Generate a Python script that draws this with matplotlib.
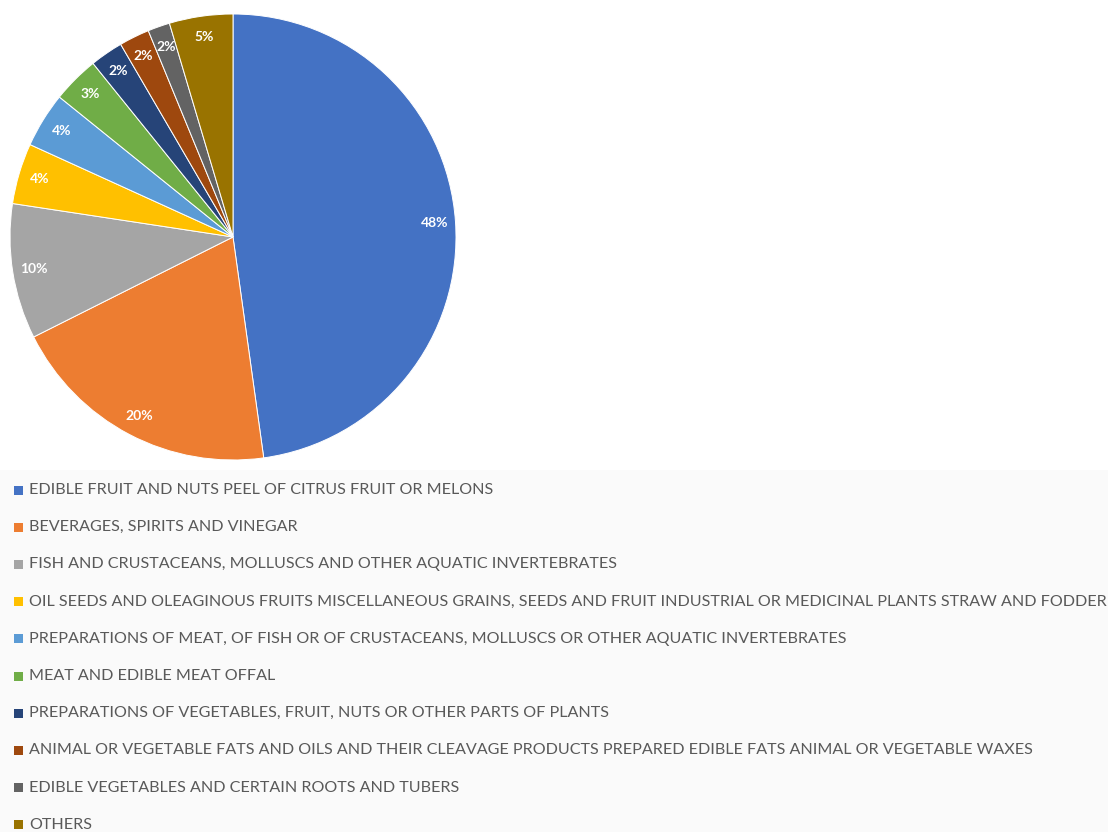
import matplotlib.pyplot as plt
from matplotlib.patches import Rectangle

# chapter shares (%), clockwise from 12 o'clock
categories = [
    "EDIBLE FRUIT AND NUTS PEEL OF CITRUS FRUIT OR MELONS",
    "BEVERAGES, SPIRITS AND VINEGAR",
    "FISH AND CRUSTACEANS, MOLLUSCS AND OTHER AQUATIC INVERTEBRATES",
    "OIL SEEDS AND OLEAGINOUS FRUITS MISCELLANEOUS GRAINS, SEEDS AND FRUIT INDUSTRIAL OR MEDICINAL PLANTS STRAW AND FODDER",
    "PREPARATIONS OF MEAT, OF FISH OR OF CRUSTACEANS, MOLLUSCS OR OTHER AQUATIC INVERTEBRATES",
    "MEAT AND EDIBLE MEAT OFFAL",
    "PREPARATIONS OF VEGETABLES, FRUIT, NUTS OR OTHER PARTS OF PLANTS",
    "ANIMAL OR VEGETABLE FATS AND OILS AND THEIR CLEAVAGE PRODUCTS PREPARED EDIBLE FATS ANIMAL OR VEGETABLE WAXES",
    "EDIBLE VEGETABLES AND CERTAIN ROOTS AND TUBERS",
    "OTHERS",
]
shares = [47.8, 19.8, 9.8, 4.4, 4.0, 3.4, 2.4, 2.2, 1.6, 4.6]
colors = ["#4472C4", "#ED7D31", "#A5A5A5", "#FFC000", "#5B9BD5",
          "#70AD47", "#264478", "#9E480E", "#636363", "#997300"]

W, H = 1108, 832
fig = plt.figure(figsize=(W / 100, H / 100), dpi=100)
fig.patch.set_facecolor("white")

# pale band behind the legend
fig.add_artist(Rectangle((0, 0), 1, (H - 470) / H, transform=fig.transFigure,
                         facecolor="#FAFAFA", edgecolor="none", zorder=0))

cx, cy, r = 233, 237, 223
ax = fig.add_axes([(cx - r) / W, (H - cy - r) / H, 2 * r / W, 2 * r / H])
wedges, texts, autotexts = ax.pie(
    shares, colors=colors, startangle=90, counterclock=False,
    autopct=lambda p: f"{p:.0f}%", pctdistance=0.905,
    wedgeprops=dict(edgecolor="white", linewidth=0.7),
    textprops=dict(color="white", fontsize=10, fontweight="bold", family="Lato"),
)
ax.set_aspect("equal")
ax.set_xlim(-1.0, 1.0)
ax.set_ylim(-1.0, 1.0)

# legend rows below the pie
y0, step = 490, 37.2
for i, (lab, col) in enumerate(zip(categories, colors)):
    y = y0 + i * step
    fig.add_artist(Rectangle((14 / W, (H - y - 4.5) / H), 9 / W, 9 / H,
                             transform=fig.transFigure, facecolor=col,
                             edgecolor="none", zorder=2))
    fig.text(29 / W, (H - y) / H, lab, fontsize=11.65, color="#595959",
             family="Lato", va="center", ha="left")

fig.savefig("out.png", dpi=100)
